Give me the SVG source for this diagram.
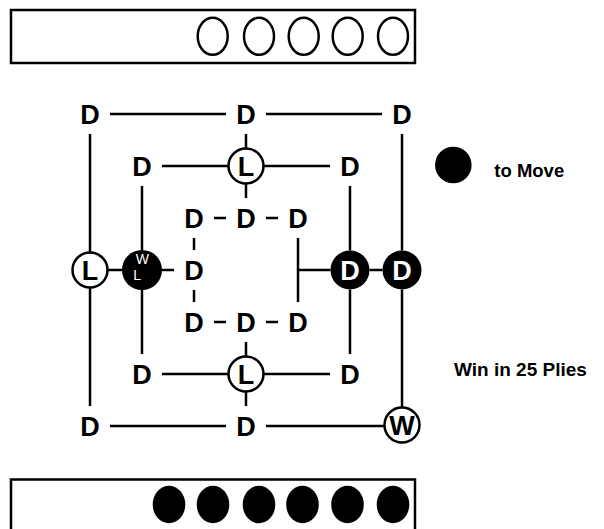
<svg xmlns="http://www.w3.org/2000/svg" width="604" height="529" viewBox="0 0 604 529">
<style>
.bg{fill:#fff}
.box{fill:#fff;stroke:#000;stroke-width:2.5}
.hole{fill:#fff;stroke:#000;stroke-width:2.5}
.stone{fill:#000}
.ln{stroke:#000;stroke-width:2.5;fill:none}
.wc{fill:#fff;stroke:#000;stroke-width:2.5}
.bc{fill:#000}
.big{font-family:"Liberation Sans",Arial,sans-serif;font-weight:bold;font-size:27px;text-anchor:middle;fill:#000}
.bigw{font-family:"Liberation Sans",Arial,sans-serif;font-weight:bold;font-size:27px;text-anchor:middle;fill:#fff}
.sm{font-family:"Liberation Sans",Arial,sans-serif;font-size:14px;fill:#fff}
.lbl{font-family:"Liberation Sans",Arial,sans-serif;font-weight:bold;fill:#000}
</style>
<rect class="bg" x="0" y="0" width="604" height="529"/>
<g id="top-tray">
<rect class="box" x="11" y="10" width="404" height="53"/>
<ellipse class="hole" cx="212.7" cy="36.3" rx="15" ry="18.5"/>
<ellipse class="hole" cx="259" cy="36.3" rx="15" ry="18.5"/>
<ellipse class="hole" cx="303.7" cy="36.3" rx="15" ry="18.5"/>
<ellipse class="hole" cx="347.7" cy="36.3" rx="15" ry="18.5"/>
<ellipse class="hole" cx="393" cy="36.3" rx="15" ry="18.5"/>
</g>
<g id="bottom-tray">
<rect class="box" x="11" y="479.5" width="404" height="60"/>
<ellipse class="stone" cx="169" cy="504.5" rx="16.3" ry="18.8"/>
<ellipse class="stone" cx="213" cy="504.5" rx="16.3" ry="18.8"/>
<ellipse class="stone" cx="259" cy="504.5" rx="16.3" ry="18.8"/>
<ellipse class="stone" cx="302.5" cy="504.5" rx="16.3" ry="18.8"/>
<ellipse class="stone" cx="347.5" cy="504.5" rx="16.3" ry="18.8"/>
<ellipse class="stone" cx="393" cy="504.5" rx="16.3" ry="18.8"/>
</g>
<g id="connectors">
<line class="ln" x1="110" y1="114" x2="226" y2="114"/>
<line class="ln" x1="266" y1="114" x2="382" y2="114"/>
<line class="ln" x1="162" y1="166" x2="228" y2="166"/>
<line class="ln" x1="264" y1="166" x2="330" y2="166"/>
<line class="ln" x1="214" y1="218" x2="226" y2="218"/>
<line class="ln" x1="266" y1="218" x2="278" y2="218"/>
<line class="ln" x1="108" y1="270" x2="122.5" y2="270"/>
<line class="ln" x1="161.5" y1="270" x2="174" y2="270"/>
<line class="ln" x1="298" y1="270" x2="330.5" y2="270"/>
<line class="ln" x1="369.5" y1="270" x2="382.5" y2="270"/>
<line class="ln" x1="214" y1="322" x2="226" y2="322"/>
<line class="ln" x1="266" y1="322" x2="278" y2="322"/>
<line class="ln" x1="162" y1="374" x2="228" y2="374"/>
<line class="ln" x1="264" y1="374" x2="330" y2="374"/>
<line class="ln" x1="110" y1="426" x2="226" y2="426"/>
<line class="ln" x1="266" y1="426" x2="384" y2="426"/>
<line class="ln" x1="90" y1="134" x2="90" y2="252"/>
<line class="ln" x1="90" y1="288" x2="90" y2="406"/>
<line class="ln" x1="142" y1="186" x2="142" y2="250.5"/>
<line class="ln" x1="142" y1="289.5" x2="142" y2="354"/>
<line class="ln" x1="194" y1="238" x2="194" y2="250"/>
<line class="ln" x1="194" y1="290" x2="194" y2="302"/>
<line class="ln" x1="246" y1="134" x2="246" y2="148"/>
<line class="ln" x1="246" y1="184" x2="246" y2="198"/>
<line class="ln" x1="246" y1="342" x2="246" y2="356"/>
<line class="ln" x1="246" y1="392" x2="246" y2="406"/>
<line class="ln" x1="298" y1="238" x2="298" y2="302"/>
<line class="ln" x1="350" y1="186" x2="350" y2="250.5"/>
<line class="ln" x1="350" y1="289.5" x2="350" y2="354"/>
<line class="ln" x1="402" y1="134" x2="402" y2="250.5"/>
<line class="ln" x1="402" y1="289.5" x2="402" y2="408"/>
</g>
<g id="n-o-tl"><text class="big" x="90" y="124">D</text></g>
<g id="n-o-tm"><text class="big" x="246" y="124">D</text></g>
<g id="n-o-tr"><text class="big" x="402" y="124">D</text></g>
<g id="n-o-ml"><circle class="wc" cx="90" cy="270" r="17.5"/><text class="big" x="90" y="280">L</text></g>
<g id="n-o-mr"><circle class="bc" cx="402" cy="270" r="19.5"/><text class="bigw" x="402" y="280">D</text></g>
<g id="n-o-bl"><text class="big" x="90" y="436">D</text></g>
<g id="n-o-bm"><text class="big" x="246" y="436">D</text></g>
<g id="n-o-br"><circle class="wc" cx="402" cy="425" r="17.5"/><text class="big" x="402" y="434.5">W</text></g>
<g id="n-m-tl"><text class="big" x="142" y="176">D</text></g>
<g id="n-m-tm"><circle class="wc" cx="246" cy="166" r="17.5"/><text class="big" x="246" y="176">L</text></g>
<g id="n-m-tr"><text class="big" x="350" y="176">D</text></g>
<g id="n-m-ml"><circle class="bc" cx="142" cy="270" r="20"/><text class="sm" x="135.7" y="264.3">W</text><text class="sm" x="133.3" y="280">L</text></g>
<g id="n-m-mr"><circle class="bc" cx="350" cy="270" r="19.5"/><text class="bigw" x="350" y="280">D</text></g>
<g id="n-m-bl"><text class="big" x="142" y="384">D</text></g>
<g id="n-m-bm"><circle class="wc" cx="246" cy="374" r="17.5"/><text class="big" x="246" y="384">L</text></g>
<g id="n-m-br"><text class="big" x="350" y="384">D</text></g>
<g id="n-i-tl"><text class="big" x="194" y="228">D</text></g>
<g id="n-i-tm"><text class="big" x="246" y="228">D</text></g>
<g id="n-i-tr"><text class="big" x="298" y="228">D</text></g>
<g id="n-i-ml"><text class="big" x="194" y="280">D</text></g>
<g id="n-i-bl"><text class="big" x="194" y="332">D</text></g>
<g id="n-i-bm"><text class="big" x="246" y="332">D</text></g>
<g id="n-i-br"><text class="big" x="298" y="332">D</text></g>
<g id="legend-move"><circle class="bc" cx="453.3" cy="165" r="18.3"/><text class="lbl" x="494.3" y="176.7" font-size="18.5">to Move</text></g>
<g id="legend-result"><text class="lbl" x="454" y="375.7" font-size="19">Win in 25 Plies</text></g>
</svg>
